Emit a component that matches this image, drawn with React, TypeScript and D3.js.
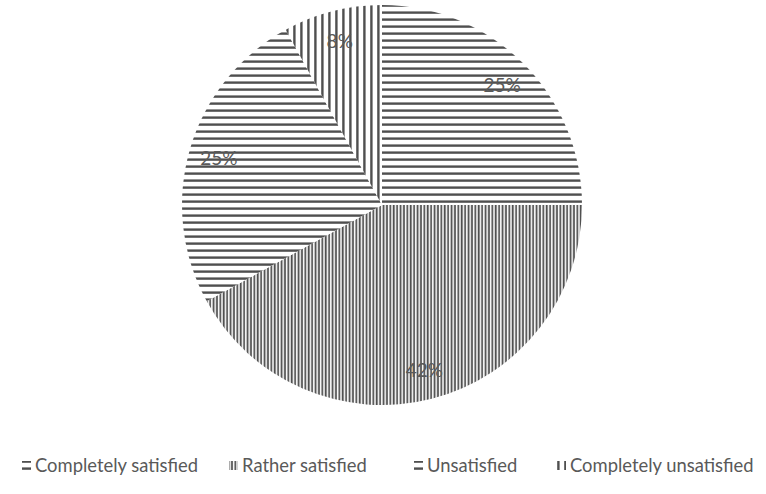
import React from "react";
import * as d3 from "d3";

const categories = ["Completely satisfied", "Rather satisfied", "Unsatisfied", "Completely unsatisfied"];
const values = [25, 42, 25, 8];
const valueLabels = ["25%", "42%", "25%", "8%"];
const patternIds = ["hatchH1", "hatchVDense", "hatchH2", "hatchVSparse"];

const W = 766;
const H = 494;
const cx = 382;
const cy = 205;
const R = 200;
const ink = "#4f4f4f";
const textColor = "#595959";

const legendX = [22, 229, 414, 557];
const legendY = 465;

export default function App() {
  const pie = d3.pie<number>().sort(null).value((d) => d);
  const arcs = pie(values);
  const arcGen = d3.arc<d3.PieArcDatum<number>>().innerRadius(0).outerRadius(R);
  const labelArc = d3.arc<d3.PieArcDatum<number>>().innerRadius(170).outerRadius(170);

  return (
    <svg width={W} height={H} style={{ position: "absolute", left: 0, top: 0, background: "#fff" }}>
      <defs>
        <pattern id="hatchH1" patternUnits="userSpaceOnUse" width={8} height={7}>
          <rect width={8} height={7} fill="#fff" />
          <rect y={2.4} width={8} height={2.4} fill={ink} />
        </pattern>
        <pattern id="hatchH2" patternUnits="userSpaceOnUse" width={8} height={7}>
          <rect width={8} height={7} fill="#fff" />
          <rect y={2.4} width={8} height={2.4} fill={ink} />
        </pattern>
        <pattern id="hatchVDense" patternUnits="userSpaceOnUse" width={3.4} height={8}>
          <rect width={3.4} height={8} fill="#fff" />
          <rect x={0.6} width={1.8} height={8} fill={ink} />
        </pattern>
        <pattern id="hatchVSparse" patternUnits="userSpaceOnUse" width={7} height={8}>
          <rect width={7} height={8} fill="#fff" />
          <rect x={2.2} width={2.4} height={8} fill={ink} />
        </pattern>
      </defs>

      <g transform={`translate(${cx},${cy})`}>
        {arcs.map((a, i) => (
          <path key={categories[i]} d={arcGen(a) ?? ""} fill={`url(#${patternIds[i]})`} />
        ))}
        {arcs.map((a, i) => {
          const [x, y] = labelArc.centroid(a);
          return (
            <text
              key={`l-${i}`}
              x={x}
              y={y}
              textAnchor="middle"
              dominantBaseline="central"
              fontFamily="Lato, 'Open Sans', sans-serif"
              fontSize={19}
              fill={textColor}
            >
              {valueLabels[i]}
            </text>
          );
        })}
      </g>

      <g>
        {categories.map((c, i) => (
          <g key={`lg-${i}`} transform={`translate(${legendX[i] - 2},${legendY})`}>
            <rect x={2} y={-4} width={9} height={9} fill={`url(#${patternIds[i]})`} />
            <text
              x={15}
              y={0}
              dominantBaseline="central"
              fontFamily="Lato, 'Open Sans', sans-serif"
              fontSize={18.4}
              fill={textColor}
            >
              {c}
            </text>
          </g>
        ))}
      </g>
    </svg>
  );
}
